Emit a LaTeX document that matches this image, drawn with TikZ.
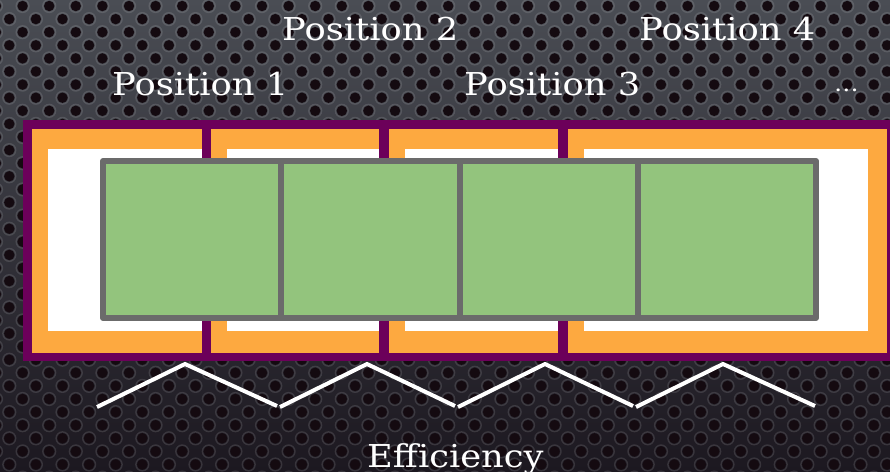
\documentclass[tikz,border=0pt]{standalone}
\usepackage{fontspec}
\setmainfont[FakeStretch=1.12]{DejaVu Serif}
\definecolor{bgtop}{HTML}{4A4D54}
\definecolor{bgbot}{HTML}{1C1820}
\definecolor{hole}{HTML}{140A10}
\definecolor{plum}{HTML}{6C005A}
\definecolor{amber}{HTML}{FDA940}
\definecolor{leaf}{HTML}{93C47D}
\definecolor{slate}{HTML}{6B6B6B}
\begin{document}
\begin{tikzpicture}[x=1pt,y=-1pt,
  postext/.style={text=white, font=\fontsize{31.5}{36}\selectfont, inner sep=0pt, anchor=base west},
  cellbox/.style={draw=slate, line width=6pt, fill=leaf, line join=round},
  zig/.style={draw=white, line width=4pt, line join=miter}]
\useasboundingbox (0,0) rectangle (890,471);
% perforated metal backdrop
\shade[top color=bgtop, bottom color=bgbot] (0,0) rectangle (890,471);
\foreach \j in {0,...,36} {
  \foreach \i in {0,...,34} {
    \pgfmathsetmacro\xx{\i*26.6 + mod(\j,2)*13.3 - 4}
    \pgfmathsetmacro\yy{\j*13.1 + 6}
    \draw[white, opacity=.12, line width=1.4pt] (\xx,\yy) circle (6.4pt);
    \fill[hole] (\xx,\yy) circle (5.2pt);
  }
}
% outer frame and the four slots
\fill[plum] (23,120) rectangle (896,361);
\fill[amber] (32,129) rectangle (202,353);
\fill[amber] (211,129) rectangle (379,353);
\fill[amber] (389,129) rectangle (558,353);
\fill[amber] (568,129) rectangle (887,353);
\fill[white] (48,149) rectangle (202,331);
\fill[white] (227,149) rectangle (379,331);
\fill[white] (405,149) rectangle (558,331);
\fill[white] (584,149) rectangle (868,331);
% green cells
\path[cellbox] (103,161) rectangle (281,318);
\path[cellbox] (281,161) rectangle (459.5,318);
\path[cellbox] (459.5,161) rectangle (638,318);
\path[cellbox] (638,161) rectangle (816,318);
% zigzags
\draw[zig] (97,407) -- (185,364) -- (277,406);
\draw[zig] (280,407) -- (367,364) -- (455,406);
\draw[zig] (458,407) -- (545,364) -- (633,406);
\draw[zig] (636,407) -- (723,364) -- (815,406);
% labels
\node[postext] (p1) at (112,95) {Position 1};
\node[postext] (p2) at (282,40) {Position 2};
\node[postext] (p3) at (464,95) {Position 3};
\node[postext] (p4) at (639,40) {Position 4};
\node[postext, font=\fontsize{22}{26}\selectfont] (more) at (834,91) {…};
\node[postext] (eff) at (367,467) {Efficiency};
\end{tikzpicture}
\end{document}
